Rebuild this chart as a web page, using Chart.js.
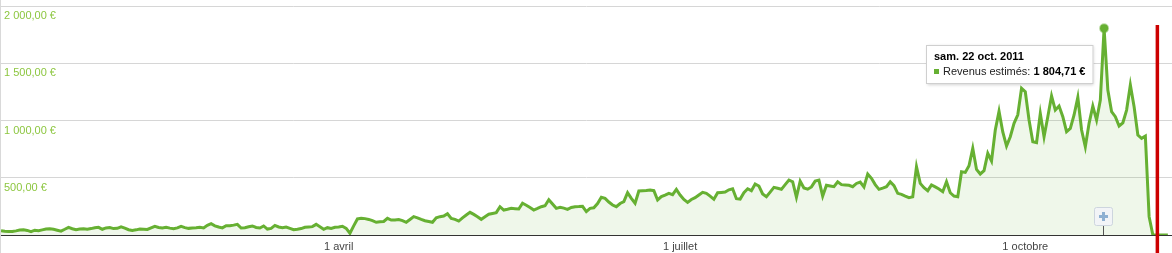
<!DOCTYPE html>
<html>
<head>
<meta charset="utf-8">
<script src="https://cdn.jsdelivr.net/npm/chart.js@4.4.0/dist/chart.umd.min.js"></script>
<style>
  html, body { margin: 0; padding: 0; background: #fff; }
  #wrap { position: relative; width: 1171px; height: 253px; border-left: 1px solid #d9d9d9; }
</style>
</head>
<body>
<div id="wrap"><canvas id="revChart"></canvas></div>
<script>
// daily estimated revenue, day 0 = 1 janv. 2011
var revenue = [
  38,32,30,31,36,44,45,40,30,42,38,45,52,55,50,42,34,50,67,55,46,52,55,50,56,64,67,50,62,66,
  56,58,72,60,46,40,45,52,50,48,62,76,66,62,67,60,55,62,76,64,58,62,64,
  67,62,85,99,80,70,62,81,80,86,93,61,64,72,79,66,61,79,52,58,84,70,64,70,58,46,50,
  56,67,70,73,93,72,50,64,58,67,70,76,58,15,80,140,146,143,136,125,111,116,118,146,131,131,135,
  125,111,135,160,150,137,125,118,111,150,160,165,186,145,137,122,150,175,198,180,160,137,160,181,188,
  195,247,218,225,233,230,227,277,260,240,218,232,247,256,308,270,233,242,235,224,240,247,248,250,204,233,238,275,
  330,320,288,262,247,275,291,369,320,277,384,386,388,393,387,306,335,348,364,352,399,349,310,285,310,
  326,350,373,364,340,312,369,372,375,395,404,317,314,370,404,387,445,428,358,334,375,416,408,399,440,480,465,329,470,
  410,400,420,471,480,340,434,428,422,465,440,437,434,422,450,463,420,533,495,440,399,410,422,465,431,
  364,355,340,326,334,596,451,413,387,437,420,402,378,465,369,340,334,553,547,605,757,573,533,562,713,646,917,1080,
  900,777,858,975,1050,1281,1251,1004,815,806,1062,858,1033,1214,1091,1126,1033,902,931,1048,
  1202,917,771,975,1126,1004,1179,1804.71,1266,1077,1033,952,980,1091,1310,1120,873,844,864,160,
  0,0,0,0,0
];
var tickDays = [90, 181, 273];
var tickLabels = ["1 avril", "1 juillet", "1 octobre"];
var yTicks = [0, 500, 1000, 1500, 2000];
var peakDay = 294;
var peakLabel = "sam. 22 oct. 2011";
var seriesName = "Revenus estimés";
var todayDay = 308.2;

var green = '#66b032';

function euro(v) {
  var parts = v.toFixed(2).split('.');
  var intPart = parts[0].replace(/\B(?=(\d{3})+(?!\d))/g, ' ');
  return intPart + ',' + parts[1] + ' €';
}

var points = revenue.map(function (v, i) { return { x: i, y: v }; });

var overlays = {
  id: 'overlays',
  afterDatasetsDraw: function (chart) {
    var ctx = chart.ctx;
    var xs = chart.scales.x;
    var area = chart.chartArea;
    var pt = chart.getDatasetMeta(0).data[peakDay];

    // annotation marker "+"
    var ax = xs.getPixelForValue(peakDay);
    ctx.save();
    ctx.strokeStyle = '#555';
    ctx.lineWidth = 1;
    ctx.beginPath();
    ctx.moveTo(Math.round(ax) - 0.5, area.bottom - 10);
    ctx.lineTo(Math.round(ax) - 0.5, area.bottom);
    ctx.stroke();
    var bx = Math.round(ax) - 10, by = area.bottom - 28;
    ctx.fillStyle = '#f2f4f7';
    ctx.strokeStyle = '#cdd5de';
    ctx.beginPath();
    ctx.roundRect(bx + 0.5, by + 0.5, 18, 18, 2);
    ctx.fill();
    ctx.stroke();
    ctx.fillStyle = '#8eb0d2';
    ctx.fillRect(bx + 5, by + 8, 9, 3);
    ctx.fillRect(bx + 8, by + 5, 3, 9);
    ctx.restore();

    // red "today" line
    var rx = xs.getPixelForValue(todayDay);
    ctx.save();
    ctx.strokeStyle = '#cc0000';
    ctx.lineWidth = 3.5;
    ctx.beginPath();
    ctx.moveTo(rx, area.top + 19);
    ctx.lineTo(rx, chart.height);
    ctx.stroke();
    ctx.restore();

    // tooltip box
    ctx.save();
    var f1 = 'bold 11px "Liberation Sans", Arial, sans-serif';
    var f2 = '11px "Liberation Sans", Arial, sans-serif';
    var valTxt = euro(revenue[peakDay]);
    var nameTxt = seriesName + ': ';
    ctx.font = f1;
    var w1 = ctx.measureText(peakLabel).width;
    var wv = ctx.measureText(valTxt).width;
    ctx.font = f2;
    var wn = ctx.measureText(nameTxt).width;
    var w = Math.max(w1, 9 + wn + wv) + 16;
    var h = 39;
    var left = Math.round(pt.x - 11 - w), top = Math.round(pt.y + 17);
    ctx.shadowColor = 'rgba(0,0,0,0.18)';
    ctx.shadowBlur = 3;
    ctx.shadowOffsetX = 1;
    ctx.shadowOffsetY = 1;
    ctx.fillStyle = '#fff';
    ctx.fillRect(left, top, w, h);
    ctx.shadowColor = 'transparent';
    ctx.strokeStyle = '#cfcfcf';
    ctx.lineWidth = 1;
    ctx.strokeRect(left + 0.5, top + 0.5, w - 1, h - 1);
    ctx.textBaseline = 'middle';
    ctx.fillStyle = '#000';
    ctx.font = f1;
    ctx.fillText(peakLabel, left + 8, top + 12);
    ctx.fillStyle = green;
    ctx.fillRect(left + 8, top + 24, 5, 5);
    ctx.fillStyle = '#222';
    ctx.font = f2;
    ctx.fillText(nameTxt, left + 17, top + 27);
    ctx.fillStyle = '#000';
    ctx.font = f1;
    ctx.fillText(valTxt, left + 17 + wn, top + 27);
    ctx.restore();
  }
};

var ctx = document.getElementById('revChart').getContext('2d');
new Chart(ctx, {
  type: 'line',
  data: {
    datasets: [{
      label: seriesName,
      data: points,
      borderColor: green,
      borderWidth: 3,
      backgroundColor: 'rgba(102,176,50,0.1)',
      fill: 'origin',
      tension: 0,
      pointRadius: function (c) { return c.dataIndex === peakDay ? 4 : 0; },
      pointBackgroundColor: green,
      pointBorderColor: 'rgba(102,176,50,0.45)',
      pointBorderWidth: 2
    }]
  },
  options: {
    responsive: true,
    maintainAspectRatio: false,
    animation: false,
    layout: { padding: { top: 6, left: 0, right: 0, bottom: 0 } },
    plugins: { legend: { display: false }, tooltip: { enabled: false } },
    scales: {
      x: {
        type: 'linear',
        min: 0,
        max: 312.1,
        afterBuildTicks: function (s) { s.ticks = tickDays.map(function (d) { return { value: d }; }); },
        afterFit: function (s) { s.height = 18; },
        ticks: {
          autoSkip: false,
          maxRotation: 0,
          padding: 5,
          color: '#444',
          font: { family: '"Liberation Sans", Arial, sans-serif', size: 11 },
          callback: function (v) { var i = tickDays.indexOf(v); return i < 0 ? '' : tickLabels[i]; }
        },
        grid: { display: false, drawTicks: false },
        border: { display: true, color: '#333', width: 1 }
      },
      y: {
        min: 0,
        max: 2000,
        afterBuildTicks: function (s) { s.ticks = yTicks.map(function (v) { return { value: v }; }); },
        afterFit: function (s) { s.width = 0; s.paddingTop = 0; s.paddingBottom = 0; },
        ticks: {
          mirror: true,
          padding: 3,
          labelOffset: 10,
          color: '#8cc63f',
          font: { family: '"Liberation Sans", Arial, sans-serif', size: 11 },
          callback: function (v) { return v === 0 ? '' : euro(v); }
        },
        grid: {
          drawTicks: false,
          color: function (c) { return c.tick && c.tick.value === 0 ? 'rgba(0,0,0,0)' : '#d6d6d6'; }
        },
        border: { display: false }
      }
    }
  },
  plugins: [overlays]
});
</script>
</body>
</html>
